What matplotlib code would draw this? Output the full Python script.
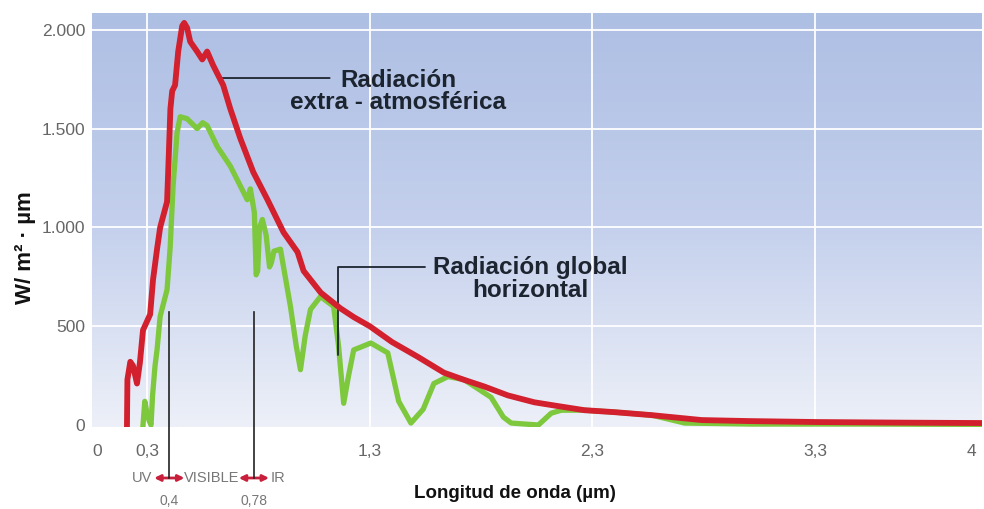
import numpy as np
from matplotlib import pyplot as plt
from matplotlib.colors import LinearSegmentedColormap

plt.rcParams['font.family'] = ['Liberation Sans', 'DejaVu Sans']

# radiación extra-atmosférica (W/m2·µm) frente a longitud de onda (µm)
extra_x = [0.210, 0.212, 0.225, 0.237, 0.255, 0.268, 0.282, 0.314, 0.327, 0.345,
           0.359, 0.390, 0.395, 0.405, 0.413, 0.426, 0.440, 0.458, 0.467, 0.480,
           0.494, 0.525, 0.548, 0.570, 0.597, 0.642, 0.674, 0.719, 0.777, 0.841,
           0.913, 0.976, 1.003, 1.080, 1.169, 1.230, 1.300, 1.400, 1.516, 1.633,
           1.720, 1.814, 1.920, 2.039, 2.150, 2.264, 2.400, 2.566, 2.791, 3.000,
           3.318, 3.700, 4.052]
extra_y = [0, 230, 320, 300, 210, 315, 480, 560, 735, 890,
           1000, 1130, 1280, 1600, 1690, 1720, 1890, 2020, 2035, 2010,
           1940, 1890, 1850, 1890, 1820, 1720, 1600, 1450, 1280, 1140,
           975, 875, 780, 670, 590, 545, 500, 420, 345, 265,
           230, 195, 150, 115, 95, 75, 65, 50, 25, 20,
           15, 12, 10]

# radiación global horizontal
global_x = [0.282, 0.290, 0.300, 0.310, 0.318, 0.325, 0.336, 0.345, 0.359, 0.390,
            0.404, 0.417, 0.435, 0.449, 0.480, 0.525, 0.550, 0.570, 0.615, 0.674,
            0.719, 0.750, 0.764, 0.782, 0.790, 0.797, 0.805, 0.818, 0.835, 0.850,
            0.858, 0.870, 0.899, 0.944, 0.970, 0.989, 1.010, 1.034, 1.079, 1.138,
            1.160, 1.183, 1.205, 1.228, 1.305, 1.381, 1.430, 1.485, 1.540, 1.588,
            1.651, 1.723, 1.845, 1.900, 1.935, 2.057, 2.115, 2.160, 2.264, 2.400,
            2.566, 2.714, 3.016, 3.500, 4.052]
global_y = [0, 120, 60, 20, 0, 150, 300, 380, 550, 685,
            900, 1210, 1480, 1560, 1550, 1500, 1530, 1515, 1410, 1310,
            1210, 1140, 1195, 1075, 760, 780, 1000, 1040, 960, 800,
            820, 880, 890, 600, 400, 280, 450, 585, 650, 600,
            400, 110, 250, 380, 415, 365, 120, 10, 80, 210,
            245, 230, 140, 40, 10, 0, 60, 75, 75, 65,
            50, 10, 5, 5, 3]

x_ticks = [0.075, 0.3, 1.3, 2.3, 3.3, 4.0]
x_tick_labels = ['0', '0,3', '1,3', '2,3', '3,3', '4']
y_ticks = [0, 500, 1000, 1500, 2000]
y_tick_labels = ['0', '500', '1.000', '1.500', '2.000']
x_grid = [0.3, 1.3, 2.3, 3.3]
y_grid = [500, 1000, 1500, 2000]

band_edges = [0.4, 0.78]
band_edge_labels = ['0,4', '0,78']
band_names = ['UV', 'VISIBLE', 'IR']

fig = plt.figure(figsize=(9.84, 5.09), dpi=100)
ax = fig.add_axes([92 / 984, 1 - 427 / 509, 890 / 984, 414 / 509])
ax.set_xlim(0.053, 4.049)
ax.set_ylim(-10, 2085)

bg = LinearSegmentedColormap.from_list('bg', ['#aebfe4', '#c3cfec', '#edf0f8'])
ax.imshow(np.linspace(0, 1, 256).reshape(-1, 1), cmap=bg, extent=[0, 1, 0, 1],
          transform=ax.transAxes, aspect='auto', zorder=0)
for gx in x_grid:
    ax.axvline(gx, color='white', lw=1.3, zorder=1)
for gy in y_grid:
    ax.axhline(gy, color='white', lw=1.3, zorder=1)

ax.plot(global_x, global_y, color='#7dc83c', lw=3.8, solid_joinstyle='round', zorder=3)
ax.plot(extra_x, extra_y, color='#d2202e', lw=4.2, solid_joinstyle='round', zorder=4)

for side in ax.spines.values():
    side.set_visible(False)
ax.set_xticks(x_ticks)
ax.set_xticklabels(x_tick_labels)
ax.set_yticks(y_ticks)
ax.set_yticklabels(y_tick_labels)
ax.tick_params(axis='both', length=0, labelsize=12.5, labelcolor='#666666')
ax.tick_params(axis='x', pad=12)
ax.tick_params(axis='y', pad=5)

text_color = '#1c2430'
ax.text(1.427, 1688, 'Radiación\nextra - atmosférica', ha='center', va='center',
        fontsize=17.5, fontweight='bold', color=text_color, linespacing=0.95, zorder=5)
ax.annotate('', xy=(0.63, 1756), xytext=(1.12, 1756),
            arrowprops=dict(arrowstyle='-', color=text_color, lw=1.3, shrinkA=0, shrinkB=0))
ax.text(2.02, 739, 'Radiación global\nhorizontal', ha='center', va='center',
        fontsize=17.5, fontweight='bold', color=text_color, linespacing=0.95, zorder=5)
ax.annotate('', xy=(1.158, 354), xytext=(1.55, 800),
            arrowprops=dict(arrowstyle='-', color=text_color, lw=1.3, shrinkA=0, shrinkB=0,
                            connectionstyle='angle,angleA=0,angleB=90,rad=0'))

# bandas UV / VISIBLE / IR debajo del eje
for edge, lab in zip(band_edges, band_edge_labels):
    ax.plot([edge, edge], [572, -268], color='#222222', lw=1.2, clip_on=False, zorder=5)
    ax.annotate('', xy=(edge - 0.068, -268), xytext=(edge + 0.068, -268),
                annotation_clip=False,
                arrowprops=dict(arrowstyle='<|-|>', color='#c8203c', lw=2,
                                mutation_scale=9, shrinkA=0, shrinkB=0))
    ax.text(edge, -382, lab, ha='center', va='center', fontsize=10, color='#777777',
            clip_on=False)
ax.text(band_edges[0] - 0.075, -268, band_names[0], ha='right', va='center',
        fontsize=10.5, color='#777777', clip_on=False)
ax.text((band_edges[0] + band_edges[1]) / 2, -268, band_names[1], ha='center', va='center',
        fontsize=10.5, color='#777777', clip_on=False)
ax.text(band_edges[1] + 0.075, -268, band_names[2], ha='left', va='center',
        fontsize=10.5, color='#777777', clip_on=False)

fig.text(25 / 984, 1 - 248 / 509, 'W/ m² · µm', rotation=90, ha='center', va='center',
         fontsize=16, fontweight='bold', color='#111111')
fig.text(515 / 984, 1 - 493 / 509, 'Longitud de onda (µm)', ha='center', va='center',
         fontsize=13.5, fontweight='bold', color='#111111')

fig.savefig('out.png', dpi=100)
